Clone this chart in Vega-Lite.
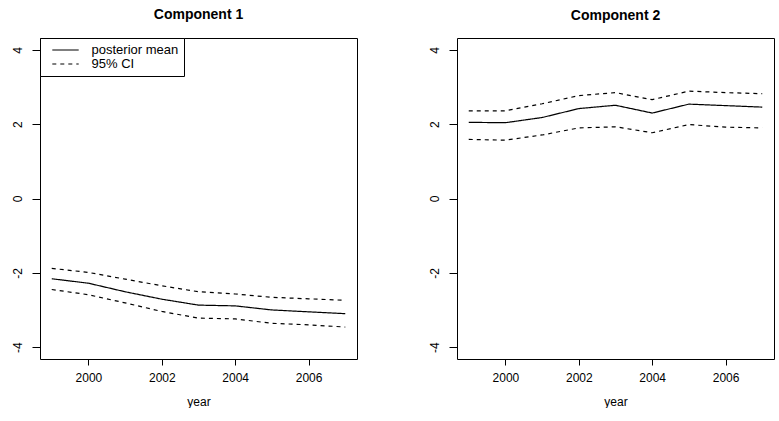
{
  "$schema": "https://vega.github.io/schema/vega-lite/v6.json",
  "background": "white",
  "padding": {"left": 11, "top": 7, "right": 0, "bottom": 0},
  "bounds": "flush",
  "spacing": 100,
  "config": {
    "font": "Liberation Sans",
    "view": {"stroke": "black", "strokeWidth": 1},
    "axis": {
      "domain": false, "grid": false,
      "tickColor": "black", "tickWidth": 1,
      "labelColor": "black", "labelFont": "Liberation Sans", "labelFontSize": 12,
      "titleColor": "black", "titleFont": "Liberation Sans", "titleFontSize": 12, "titleFontWeight": "normal"
    },
    "axisY": {"labelAngle": -90, "tickSize": 8, "labelPadding": 7.5},
    "axisX": {"tickSize": 6, "labelPadding": 7, "titlePadding": 13},
    "title": {"font": "Liberation Sans", "fontSize": 14, "fontWeight": "bold", "color": "black", "anchor": "middle", "baseline": "alphabetic", "offset": 15.5},
    "legend": {
      "orient": "top-left", "offset": 0, "padding": 5,
      "strokeColor": "black", "fillColor": "white",
      "symbolType": "M-2.2,0H2.2", "symbolSize": 144, "symbolStrokeColor": "black", "symbolStrokeWidth": 1.2, "symbolFillColor": "transparent",
      "symbolOffset": 13.5, "labelOffset": 19,
      "labelFont": "Liberation Sans", "labelFontSize": 13, "labelColor": "black",
      "rowPadding": 0, "title": null
    }
  },
  "resolve": {"legend": {"strokeDash": "independent"}, "scale": {"strokeDash": "independent"}},
  "hconcat": [
    {
      "width": 317, "height": 321,
      "title": "Component 1",
      "data": {"values": [
        {"year": 1999, "bound": "mean", "series": "posterior mean", "value": -2.16},
        {"year": 2000, "bound": "mean", "series": "posterior mean", "value": -2.28},
        {"year": 2001, "bound": "mean", "series": "posterior mean", "value": -2.51},
        {"year": 2002, "bound": "mean", "series": "posterior mean", "value": -2.71},
        {"year": 2003, "bound": "mean", "series": "posterior mean", "value": -2.87},
        {"year": 2004, "bound": "mean", "series": "posterior mean", "value": -2.89},
        {"year": 2005, "bound": "mean", "series": "posterior mean", "value": -3.00},
        {"year": 2006, "bound": "mean", "series": "posterior mean", "value": -3.05},
        {"year": 2007, "bound": "mean", "series": "posterior mean", "value": -3.10},
        {"year": 1999, "bound": "upper", "series": "95% CI", "value": -1.88},
        {"year": 2000, "bound": "upper", "series": "95% CI", "value": -1.99},
        {"year": 2001, "bound": "upper", "series": "95% CI", "value": -2.17},
        {"year": 2002, "bound": "upper", "series": "95% CI", "value": -2.35},
        {"year": 2003, "bound": "upper", "series": "95% CI", "value": -2.51},
        {"year": 2004, "bound": "upper", "series": "95% CI", "value": -2.57},
        {"year": 2005, "bound": "upper", "series": "95% CI", "value": -2.66},
        {"year": 2006, "bound": "upper", "series": "95% CI", "value": -2.70},
        {"year": 2007, "bound": "upper", "series": "95% CI", "value": -2.74},
        {"year": 1999, "bound": "lower", "series": "95% CI", "value": -2.45},
        {"year": 2000, "bound": "lower", "series": "95% CI", "value": -2.59},
        {"year": 2001, "bound": "lower", "series": "95% CI", "value": -2.81},
        {"year": 2002, "bound": "lower", "series": "95% CI", "value": -3.04},
        {"year": 2003, "bound": "lower", "series": "95% CI", "value": -3.22},
        {"year": 2004, "bound": "lower", "series": "95% CI", "value": -3.24},
        {"year": 2005, "bound": "lower", "series": "95% CI", "value": -3.36},
        {"year": 2006, "bound": "lower", "series": "95% CI", "value": -3.40},
        {"year": 2007, "bound": "lower", "series": "95% CI", "value": -3.46}
      ]},
      "mark": {"type": "line", "color": "black", "strokeWidth": 1.2},
      "encoding": {
        "x": {"field": "year", "type": "quantitative", "scale": {"domain": [1998.68, 2007.32], "nice": false, "zero": false}, "axis": {"values": [2000, 2002, 2004, 2006], "format": "d", "title": "year"}},
        "y": {"field": "value", "type": "quantitative", "scale": {"domain": [-4.32, 4.32], "nice": false, "zero": false}, "axis": {"values": [-4, -2, 0, 2, 4], "title": null, "labelExpr": "'' + datum.value"}},
        "detail": {"field": "bound"},
        "strokeDash": {"field": "series", "type": "nominal", "scale": {"domain": ["posterior mean", "95% CI"], "range": [[1, 0], [4, 4]]}, "legend": {"title": null}}
      }
    },
    {
      "width": 317, "height": 321,
      "title": "Component 2",
      "data": {"values": [
        {"year": 1999, "bound": "mean", "series": "posterior mean", "value": 2.05},
        {"year": 2000, "bound": "mean", "series": "posterior mean", "value": 2.04},
        {"year": 2001, "bound": "mean", "series": "posterior mean", "value": 2.18},
        {"year": 2002, "bound": "mean", "series": "posterior mean", "value": 2.42},
        {"year": 2003, "bound": "mean", "series": "posterior mean", "value": 2.51},
        {"year": 2004, "bound": "mean", "series": "posterior mean", "value": 2.30},
        {"year": 2005, "bound": "mean", "series": "posterior mean", "value": 2.54},
        {"year": 2006, "bound": "mean", "series": "posterior mean", "value": 2.50},
        {"year": 2007, "bound": "mean", "series": "posterior mean", "value": 2.46},
        {"year": 1999, "bound": "upper", "series": "95% CI", "value": 2.36},
        {"year": 2000, "bound": "upper", "series": "95% CI", "value": 2.36},
        {"year": 2001, "bound": "upper", "series": "95% CI", "value": 2.55},
        {"year": 2002, "bound": "upper", "series": "95% CI", "value": 2.77},
        {"year": 2003, "bound": "upper", "series": "95% CI", "value": 2.85},
        {"year": 2004, "bound": "upper", "series": "95% CI", "value": 2.66},
        {"year": 2005, "bound": "upper", "series": "95% CI", "value": 2.89},
        {"year": 2006, "bound": "upper", "series": "95% CI", "value": 2.85},
        {"year": 2007, "bound": "upper", "series": "95% CI", "value": 2.82},
        {"year": 1999, "bound": "lower", "series": "95% CI", "value": 1.59},
        {"year": 2000, "bound": "lower", "series": "95% CI", "value": 1.57},
        {"year": 2001, "bound": "lower", "series": "95% CI", "value": 1.71},
        {"year": 2002, "bound": "lower", "series": "95% CI", "value": 1.90},
        {"year": 2003, "bound": "lower", "series": "95% CI", "value": 1.93},
        {"year": 2004, "bound": "lower", "series": "95% CI", "value": 1.77},
        {"year": 2005, "bound": "lower", "series": "95% CI", "value": 1.99},
        {"year": 2006, "bound": "lower", "series": "95% CI", "value": 1.92},
        {"year": 2007, "bound": "lower", "series": "95% CI", "value": 1.90}
      ]},
      "mark": {"type": "line", "color": "black", "strokeWidth": 1.2},
      "encoding": {
        "x": {"field": "year", "type": "quantitative", "scale": {"domain": [1998.68, 2007.32], "nice": false, "zero": false}, "axis": {"values": [2000, 2002, 2004, 2006], "format": "d", "title": "year"}},
        "y": {"field": "value", "type": "quantitative", "scale": {"domain": [-4.32, 4.32], "nice": false, "zero": false}, "axis": {"values": [-4, -2, 0, 2, 4], "title": null, "labelExpr": "'' + datum.value"}},
        "detail": {"field": "bound"},
        "strokeDash": {"field": "series", "type": "nominal", "scale": {"domain": ["posterior mean", "95% CI"], "range": [[1, 0], [4, 4]]}, "legend": null}
      }
    }
  ]
}
